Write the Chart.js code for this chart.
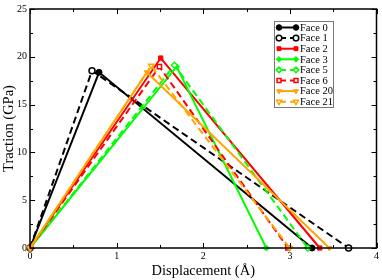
<!DOCTYPE html>
<html>
<head>
<meta charset="utf-8">
<script src="https://cdn.jsdelivr.net/npm/chart.js@4"></script>
<style>
  html, body { margin: 0; padding: 0; background: #fff; }
  #wrap { width: 382px; height: 280px; }
</style>
</head>
<body>
<div id="wrap"><canvas id="tsChart" width="382" height="280"></canvas></div>
<script>
// Dữ liệu: mỗi mặt có 3 điểm (0,0) -> đỉnh -> (cuối,0)
const faceNames = ['Face 0', 'Face 1', 'Face 2', 'Face 3', 'Face 5', 'Face 6', 'Face 20', 'Face 21'];
const peakDisp = [0.797, 0.716, 1.509, 1.693, 1.667, 1.494, 1.349, 1.399];
const peakTraction = [18.38, 18.55, 19.87, 18.96, 19.12, 18.96, 18.38, 19.06];
const endDisp = [3.256, 3.678, 3.345, 2.728, 3.207, 2.977, 3.456, 2.997];

const xTicks = [0, 1, 2, 3, 4];
const yTicks = [0, 5, 10, 15, 20, 25];

// Kiểu hiển thị
const faceColors = ['#000000', '#000000', '#ff0000', '#00ff00', '#00ff00', '#ff0000', '#ffa500', '#ffa500'];
const faceDashed = [false, true, false, false, true, true, false, true];
const faceMarkers = ['circle', 'circle', 'rect', 'rectRot', 'rectRot', 'rect', 'triangle', 'triangle'];

const serif = '"Liberation Serif", "DejaVu Serif", serif';

const datasets = faceNames.map((name, i) => ({
    label: name,
    data: [
        { x: 0, y: 0 },
        { x: peakDisp[i], y: peakTraction[i] },
        { x: endDisp[i], y: 0 }
    ],
    showLine: true,
    borderColor: faceColors[i],
    borderWidth: 2,
    borderDash: faceDashed[i] ? [7, 4] : [],
    pointStyle: faceMarkers[i],
    pointRotation: faceMarkers[i] === 'triangle' ? 180 : 0,
    pointRadius: 3,
    pointBorderWidth: faceDashed[i] ? 1.5 : 1,
    pointBorderColor: faceColors[i],
    pointBackgroundColor: faceDashed[i] ? '#ffffff' : faceColors[i],
    order: faceNames.length - i,
    clip: false
}));

// Vạch chia hướng vào trong + khung + chú thích
const frameTicks = {
    id: 'frameTicks',
    afterDatasetsDraw(chart) {
        const { ctx, chartArea: a, scales: { x, y } } = chart;
        ctx.save();
        ctx.strokeStyle = '#000';
        ctx.lineWidth = 1;
        ctx.beginPath();
        for (let v = 0; v <= 4.001; v += 0.5) {
            const px = Math.round(x.getPixelForValue(v)) + 0.5;
            const len = Math.abs(v - Math.round(v)) < 0.01 ? 5 : 3;
            ctx.moveTo(px, a.bottom); ctx.lineTo(px, a.bottom - len);
            ctx.moveTo(px, a.top); ctx.lineTo(px, a.top + len);
        }
        for (let v = 0; v <= 25.001; v += 2.5) {
            const py = Math.round(y.getPixelForValue(v)) + 0.5;
            const len = Math.abs(v / 5 - Math.round(v / 5)) < 0.01 ? 5 : 3;
            ctx.moveTo(a.left, py); ctx.lineTo(a.left + len, py);
            ctx.moveTo(a.right, py); ctx.lineTo(a.right - len, py);
        }
        ctx.stroke();
        ctx.lineWidth = 1.5;
        ctx.strokeRect(a.left, a.top, a.right - a.left, a.bottom - a.top);

        // Chú thích
        const bx = 274, by = 21, bw = 59, bh = 86, rowH = 10.6;
        ctx.fillStyle = '#fff';
        ctx.fillRect(bx, by, bw, bh);
        ctx.lineWidth = 1;
        ctx.strokeStyle = '#777';
        ctx.strokeRect(bx + 0.5, by + 0.5, bw, bh);
        chart.data.datasets.forEach((ds, i) => {
            const ly = by + 6.5 + i * rowH;
            ctx.strokeStyle = ds.borderColor;
            ctx.lineWidth = 2;
            ctx.setLineDash(ds.borderDash);
            ctx.beginPath();
            ctx.moveTo(279, ly); ctx.lineTo(296, ly);
            ctx.stroke();
            ctx.setLineDash([]);
            [279, 296].forEach(mx => {
                ctx.fillStyle = ds.pointBackgroundColor;
                ctx.strokeStyle = ds.pointBorderColor;
                ctx.lineWidth = ds.pointBorderWidth;
                Chart.helpers.drawPoint(ctx, {
                    pointStyle: ds.pointStyle,
                    rotation: ds.pointRotation,
                    radius: 2.8,
                    borderWidth: ds.pointBorderWidth
                }, mx, ly);
            });
            ctx.fillStyle = '#000';
            ctx.font = '10.5px ' + serif;
            ctx.textBaseline = 'middle';
            ctx.fillText(ds.label, 300, ly + 0.5);
        });
        ctx.restore();
    }
};

new Chart(document.getElementById('tsChart'), {
    type: 'scatter',
    data: { datasets: datasets },
    options: {
        responsive: false,
        animation: false,
        devicePixelRatio: 1,
        layout: { padding: { top: 4.5, right: 4, left: 0, bottom: 0 } },
        plugins: {
            legend: { display: false },
            tooltip: { enabled: false }
        },
        scales: {
            x: {
                type: 'linear',
                min: 0,
                max: 4,
                afterBuildTicks: s => { s.ticks = xTicks.map(v => ({ value: v })); },
                afterFit: s => { s.height = 32; },
                grid: { display: false, drawTicks: false },
                border: { display: false },
                ticks: { padding: 2, color: '#000', font: { family: serif, size: 10 } },
                title: {
                    display: true,
                    text: 'Displacement (Å)',
                    color: '#000',
                    padding: { top: 0, bottom: 0 },
                    font: { family: serif, size: 14.5 }
                }
            },
            y: {
                type: 'linear',
                min: 0,
                max: 25,
                afterBuildTicks: s => { s.ticks = yTicks.map(v => ({ value: v })); },
                afterFit: s => { s.width = 30; },
                grid: { display: false, drawTicks: false },
                border: { display: false },
                ticks: { padding: 3, color: '#000', font: { family: serif, size: 10 } },
                title: {
                    display: true,
                    text: 'Traction (GPa)',
                    color: '#000',
                    padding: { top: 0, bottom: 0 },
                    font: { family: serif, size: 14.5 }
                }
            }
        }
    },
    plugins: [frameTicks]
});
</script>
</body>
</html>
